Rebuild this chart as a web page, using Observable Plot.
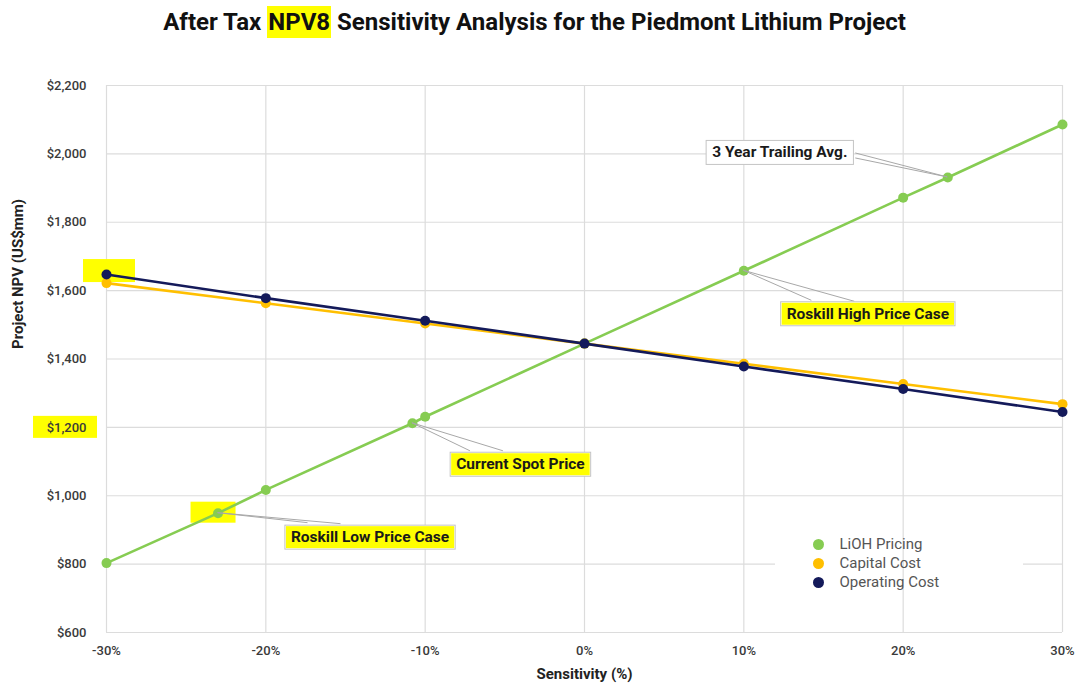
<!DOCTYPE html>
<html><head><meta charset="utf-8">
<script src="https://cdn.jsdelivr.net/npm/d3@7"></script>
<script src="https://cdn.jsdelivr.net/npm/@observablehq/plot@0.6"></script>
<style>
body{margin:0;background:#fff;font-family:Roboto,"Liberation Sans",sans-serif;}
#title{height:45px;width:1083px;box-sizing:border-box;padding-right:14px;text-align:center;font:700 24px Roboto,sans-serif;line-height:45px;color:#111;white-space:nowrap;letter-spacing:0px;}
#title .hl{background:#ffff00;padding:2px 1px;}
#chart svg{display:block;}
</style></head><body>
<div id="title">After Tax <span class="hl">NPV8</span> Sensitivity Analysis for the Piedmont Lithium Project</div>
<div id="chart"></div>
<script>
// ---- data ----
const sensitivity = [-30, -20, -10, 0, 10, 20, 30];
const yTicks = [600, 800, 1000, 1200, 1400, 1600, 1800, 2000, 2200];
const seriesNames = ["LiOH Pricing", "Capital Cost", "Operating Cost"];
const liohX = [-30, -23, -20, -10.8, -10, 0, 10, 20, 22.8, 30];
const liohNPV = [803, 949, 1017, 1212, 1231, 1445, 1658, 1872, 1931, 2086];
const capitalNPV = [1622, 1563, 1504, 1445, 1386, 1327, 1268];
const operatingNPV = [1647, 1578, 1512, 1445, 1378, 1312, 1245];
const annLabels = ["3 Year Trailing Avg.", "Roskill High Price Case", "Current Spot Price", "Roskill Low Price Case"];
const annX = [22.8, 10, -10.8, -23];
const annNPV = [1931, 1658, 1212, 949];
const annHighlighted = [false, true, true, true];

// ---- layout / style ----
const colors = ["#86cc52", "#ffbf00", "#141a5a"];
const YEL = "#ffff00";
const annOffsets = [[-168, -25], [124, 43], [108, 41], [152, 24]];
const leaderOffsets = [
  [[-92, -24], [-92, -19]],
  [[68, 30], [111, 31]],
  [[58, 28], [91, 28]],
  [[90, 10], [123, 11]]
];

const lioh = liohX.map((x, i) => ({x, y: liohNPV[i], s: seriesNames[0]}));
const capital = sensitivity.map((x, i) => ({x, y: capitalNPV[i], s: seriesNames[1]}));
const operating = sensitivity.map((x, i) => ({x, y: operatingNPV[i], s: seriesNames[2]}));
const anns = annLabels.map((t, i) => ({t, x: annX[i], y: annNPV[i], hl: annHighlighted[i], i}));
const fmtY = d => "$" + d3.format(",")(d);

const annMarks = anns.map((a, i) => Plot.text([a], {
  x: "x", y: "y", text: "t", dx: annOffsets[i][0], dy: annOffsets[i][1],
  fontWeight: 700, fontSize: 15.5, fill: "#1a1a1a", textAnchor: "middle", lineAnchor: "middle",
  className: "ann"
}));

const legendMarks = seriesNames.flatMap((s, i) => [
  Plot.dot([s], {frameAnchor: "bottom-right", dx: -244, dy: -88 + i * 19, r: 5.5, fill: colors[i], stroke: "none"}),
  Plot.text([s], {frameAnchor: "bottom-right", dx: -223, dy: -88 + i * 19, text: d => d, textAnchor: "start", fontSize: 15, fill: "#555", lineAnchor: "middle"})
]);

const plot = Plot.plot({
  width: 1083, height: 643,
  marginTop: 40, marginBottom: 56, marginLeft: 106, marginRight: 21,
  x: {domain: [-30, 30]},
  y: {domain: [600, 2200]},
  style: {fontFamily: "Roboto, sans-serif", background: "#fff", overflow: "visible"},
  marks: [
    Plot.gridY(yTicks, {stroke: "#dcdcdc", strokeOpacity: 1, strokeWidth: 1.2}),
    // legend mask over horizontal gridline
    Plot.rect([0], {x1: () => 30, x2: () => 30, y1: () => 800, y2: () => 800, insetLeft: -287, insetRight: 39, insetTop: -10, insetBottom: -10, fill: "#fff"}),
    Plot.gridX(sensitivity, {stroke: "#dcdcdc", strokeOpacity: 1, strokeWidth: 1.2}),
    // highlight behind $1,200 tick label
    Plot.rect([1200], {x1: () => -30, x2: () => -30, y1: d => d, y2: d => d, insetLeft: -73, insetRight: 9, insetTop: -11, insetBottom: -11, fill: YEL}),
    // highlight behind -30% operating point
    Plot.rect([operating[0]], {x1: "x", x2: "x", y1: "y", y2: "y", insetLeft: -23, insetRight: -29, insetTop: -15, insetBottom: -8, fill: YEL}),
    // highlight behind Roskill low point
    Plot.rect([lioh[1]], {x1: "x", x2: "x", y1: "y", y2: "y", insetLeft: -27, insetRight: -18, insetTop: -11, insetBottom: -10, fill: YEL}),
    Plot.axisX(sensitivity, {tickSize: 0, tickPadding: 13, tickFormat: d => d + "%", fontSize: 13, fontWeight: 500, fill: "#3a3a3a", label: null}),
    Plot.axisY(yTicks, {tickSize: 0, tickPadding: 20, tickFormat: fmtY, fontSize: 13, fontWeight: 500, fill: "#3a3a3a", label: null}),
    Plot.text(["Sensitivity (%)"], {frameAnchor: "bottom", dy: 46, fontWeight: 700, fontSize: 15, fill: "#222"}),
    Plot.text(["Project NPV (US$mm)"], {frameAnchor: "left", dx: -88, dy: -10, rotate: -90, fontWeight: 700, fontSize: 15, fill: "#222"}),
    Plot.line(lioh, {x: "x", y: "y", stroke: colors[0], strokeWidth: 2.6}),
    Plot.dot(lioh, {x: "x", y: "y", r: 5, fill: colors[0], stroke: "none"}),
    Plot.line(capital, {x: "x", y: "y", stroke: colors[1], strokeWidth: 2.6}),
    Plot.dot(capital, {x: "x", y: "y", r: 5, fill: colors[1], stroke: "none"}),
    Plot.line(operating, {x: "x", y: "y", stroke: colors[2], strokeWidth: 2.6}),
    Plot.dot(operating, {x: "x", y: "y", r: 5, fill: colors[2], stroke: "none"}),
    ...annMarks,
    ...legendMarks
  ]
});
document.getElementById("chart").appendChild(plot);

// ---- annotation boxes & leaders ----
const sx = plot.scale("x"), sy = plot.scale("y");
const svg = d3.select(plot);
const lg = svg.append("g");
anns.forEach((a, i) => {
  const px = sx.apply(a.x), py = sy.apply(a.y);
  leaderOffsets[i].forEach(([ox, oy]) => {
    lg.append("line").attr("x1", px).attr("y1", py).attr("x2", px + ox).attr("y2", py + oy)
      .attr("stroke", "#a8a8a8").attr("stroke-width", 1);
  });
});
const NS = "http://www.w3.org/2000/svg";
const texts = plot.querySelectorAll("g.ann text");
texts.forEach((t, k) => {
  const a = anns[k];
  const b = t.getBBox();
  const g = t.parentNode;
  const tr = t.getAttribute("transform");
  const padX = 6, padY = 3;
  const mk = (inset, fill, stroke) => {
    const r = document.createElementNS(NS, "rect");
    r.setAttribute("x", b.x - padX + inset); r.setAttribute("y", b.y - padY + inset);
    r.setAttribute("width", b.width + 2 * padX - 2 * inset); r.setAttribute("height", b.height + 2 * padY - 2 * inset);
    r.setAttribute("fill", fill);
    if (stroke) { r.setAttribute("stroke", stroke); r.setAttribute("stroke-width", 1); }
    if (tr) r.setAttribute("transform", tr);
    g.insertBefore(r, t);
  };
  mk(0, "#fff", "#c4c4c4");
  if (a.hl) mk(1, YEL, null);
});
plot.querySelectorAll("g.ann").forEach(g => plot.appendChild(g));
</script>
</body></html>
